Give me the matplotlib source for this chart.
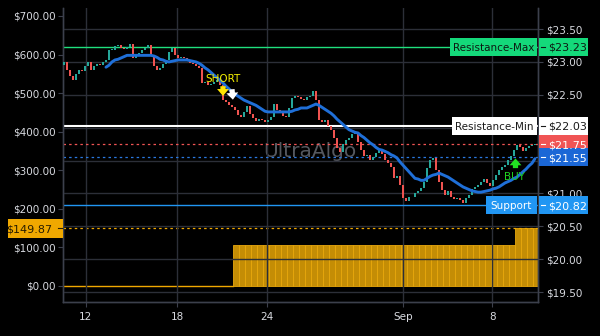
import matplotlib
matplotlib.use('Agg')
import matplotlib.pyplot as plt
import matplotlib.transforms as mtransforms
from matplotlib.patches import Rectangle
from matplotlib.lines import Line2D
import numpy as np

# ---------------- data ----------------
closes = [
    23.00, 22.88, 22.79, 22.72, 22.82, 22.88, 22.86, 22.94, 23.00, 22.88,
    22.94, 22.97, 22.95, 23.00, 23.03, 23.18, 23.18, 23.24, 23.26, 23.21,
    23.20, 23.23, 23.27, 23.06, 23.09, 23.13, 23.18, 23.21, 23.26, 23.10,
    22.94, 22.88, 22.91, 22.97, 23.03, 23.15, 23.21, 23.10, 23.06, 23.07,
    23.06, 23.03, 22.98, 22.97, 22.94, 22.91, 22.68, 22.69, 22.65, 22.66,
    22.69, 22.72, 22.65, 22.42, 22.39, 22.34, 22.31, 22.27, 22.19, 22.16,
    22.24, 22.33, 22.21, 22.15, 22.10, 22.13, 22.12, 22.09, 22.12, 22.16,
    22.36, 22.27, 22.22, 22.18, 22.16, 22.30, 22.45, 22.48, 22.47, 22.44,
    22.42, 22.47, 22.48, 22.56, 22.42, 22.12, 22.09, 22.12, 22.02, 21.96,
    21.84, 21.69, 21.63, 21.75, 21.81, 21.84, 21.90, 21.93, 21.78, 21.66,
    21.57, 21.58, 21.51, 21.55, 21.61, 21.66, 21.60, 21.51, 21.46, 21.40,
    21.23, 21.26, 21.13, 20.93, 20.88, 20.94, 20.94, 21.01, 21.04, 21.08,
    21.17, 21.39, 21.51, 21.54, 21.36, 21.17, 21.05, 20.98, 21.04, 20.94,
    20.91, 20.93, 20.90, 20.85, 20.93, 20.98, 21.07, 21.10, 21.13, 21.17,
    21.22, 21.16, 21.11, 21.20, 21.28, 21.36, 21.40, 21.43, 21.51, 21.57,
    21.66, 21.74, 21.71, 21.64, 21.69, 21.72, 21.74, 21.75,
]
first_open = 22.95

ma_values = [
    22.92, 22.95, 23.00, 23.03, 23.04, 23.06, 23.08, 23.10,
    23.10, 23.10, 23.10, 23.10, 23.10, 23.10, 23.10, 23.10,
    23.09, 23.07, 23.04, 23.03, 23.01, 23.00, 23.01, 23.02,
    23.03, 23.03, 23.03, 23.03, 23.02, 23.01, 23.00, 22.98,
    22.95, 22.91, 22.88, 22.84, 22.80, 22.76, 22.72, 22.68,
    22.63, 22.59, 22.54, 22.51, 22.48, 22.45, 22.42, 22.40,
    22.38, 22.36, 22.34, 22.31, 22.28, 22.25, 22.24, 22.24,
    22.24, 22.24, 22.24, 22.24, 22.24, 22.24, 22.25, 22.27,
    22.28, 22.30, 22.30, 22.30, 22.32, 22.34, 22.36, 22.34,
    22.31, 22.28, 22.25, 22.22, 22.18, 22.13, 22.09, 22.05,
    22.01, 21.97, 21.95, 21.93, 21.92, 21.88, 21.85, 21.81,
    21.77, 21.74, 21.70, 21.67, 21.66, 21.64, 21.62, 21.59,
    21.57, 21.54, 21.48, 21.43, 21.38, 21.33, 21.28, 21.23,
    21.22, 21.20, 21.20, 21.23, 21.26, 21.28, 21.29, 21.31,
    21.29, 21.27, 21.25, 21.22, 21.19, 21.16, 21.13, 21.10,
    21.08, 21.06, 21.04, 21.03, 21.02, 21.02, 21.03, 21.04,
    21.05, 21.07, 21.08, 21.10, 21.13, 21.16, 21.18, 21.20,
    21.23, 21.25, 21.29, 21.33, 21.37, 21.42, 21.46, 21.53,
]

equity_levels = [0.0, 106.3, 149.87]
equity_change_idx = [57, 151]

resistance_max = 23.23
resistance_min = 22.03
last_price = 21.75
ma_last = 21.55
support = 20.82
equity_last = 149.87

short_idx = 53
exit_idx = 56
buy_idx = 150

x_tick_pos = [7.3, 37.7, 67.7, 113.0, 142.7]
x_tick_labels = ['12', '18', '24', 'Sep', '8']
left_ticks = [0, 100, 200, 300, 400, 500, 600, 700]
right_ticks = [19.5, 20.0, 20.5, 21.0, 21.5, 22.0, 22.5, 23.0, 23.5]
right_hidden_labels = [21.5, 22.0]   # covered by the price boxes in the reference

# ---------------- style ----------------
BG = '#000000'
GRID = '#2c2f38'
SPINE = '#3c404c'
TXT = '#d8dae0'
UP = '#26a69a'
DOWN = '#ef5350'
MA_C = '#1f6fd8'
ORANGE = '#f0a800'
ORANGE_F = '#c48d05'
GREEN_BOX = '#14d97a'
RED_BOX = '#f05454'
BLUE_BOX = '#1b67d6'
SUP_BOX = '#2196f3'
FS = 7.5

plt.rcParams['font.family'] = ['DejaVu Sans']

W, H = 600, 336
fig = plt.figure(figsize=(W / 100, H / 100), dpi=100, facecolor=BG)
ax = fig.add_axes([63 / W, 1 - 302 / H, 475 / W, 294 / H])
ax.set_facecolor(BG)
ax2 = ax.twinx()
ax2.patch.set_visible(False)

n = len(closes)
xi = np.arange(n)
closes_a = np.array(closes)
opens_a = np.array([first_open] + closes[:-1])

ax.set_xlim(-0.33, 158.0)
ax.set_ylim(-41.5, 720.7)
ax2.set_ylim(19.35, 23.82)

# spines
for a in (ax, ax2):
    a.spines['top'].set_visible(False)
    for s in ('left', 'right', 'bottom'):
        a.spines[s].set_color(SPINE)
        a.spines[s].set_linewidth(1.0)

# ---------------- equity (left axis) ----------------
eq = np.full(n, equity_levels[0])
for lvl, ci in zip(equity_levels[1:], equity_change_idx):
    eq[ci:] = lvl
zero_part = xi[eq == equity_levels[0]]
ax.plot(np.append(zero_part, zero_part[-1] + 0.5), np.full(len(zero_part) + 1, 0.0),
        color=ORANGE, lw=1.0, zorder=2)
pos_idx = xi[eq > 0][::2]
ax.bar(pos_idx + 0.5, eq[pos_idx], width=2.0, bottom=0, color=ORANGE_F,
       edgecolor='#e8a80c', linewidth=0.6, zorder=2)
ax.axhline(equity_last, color=ORANGE, lw=0.9, ls=(0, (2, 2.5)), zorder=3)

# watermark
ax.text(310 / W, 1 - 152 / H, 'UltraAlgo', transform=fig.transFigure, ha='center',
        va='center', color='#55585f', fontsize=14.5, zorder=4)

# ---------------- grid (right axis) ----------------
ax2.set_yticks(right_ticks)
ax2.grid(axis='y', color=GRID, lw=1.0, zorder=0.5)
for xp in x_tick_pos:
    ax2.axvline(xp, color=GRID, lw=1.0, zorder=0.5)

# reference lines
ax2.axhline(resistance_max, color='#1fe07e', lw=1.0, zorder=1)
ax2.axhline(resistance_min, color='#ffffff', lw=1.5, zorder=1)
ax2.axhline(last_price, color=RED_BOX, lw=0.9, ls=(0, (2, 2.5)), zorder=1)
ax2.axhline(ma_last, color='#2a78e0', lw=0.9, ls=(0, (2, 2.5)), zorder=1)
ax2.axhline(support, color=SUP_BOX, lw=1.0, zorder=1)

# ---------------- candles ----------------
up = closes_a >= opens_a
body_lo = np.minimum(opens_a, closes_a)
body_h = np.maximum(np.abs(closes_a - opens_a), 0.012)
colors = np.where(up, UP, DOWN)
ax2.bar(xi, body_h, bottom=body_lo, width=0.8, color=colors, linewidth=0, zorder=3)

# moving average
ma = np.array([np.nan] * (n - len(ma_values)) + ma_values)
ax2.plot(xi, ma, color=MA_C, lw=2.1, solid_capstyle='round', zorder=4)

# ---------------- signals ----------------
def pt_offset(dy):
    return mtransforms.offset_copy(ax2.transData, fig=fig, x=0, y=dy, units='points')

arr_style = 'simple,head_length=0.55,head_width=0.95,tail_width=0.42'
ax2.annotate('', xy=(short_idx, closes[short_idx]), xycoords=pt_offset(3),
             xytext=(short_idx, closes[short_idx]), textcoords=pt_offset(10),
             arrowprops=dict(arrowstyle=arr_style, fc='#ffe600', ec='none',
                             mutation_scale=9, shrinkA=0, shrinkB=0), zorder=6)
ax2.annotate('SHORT', xy=(short_idx, closes[short_idx]), xycoords=pt_offset(15.5),
             ha='center', va='center', color='#f5f000', fontsize=FS, zorder=6)
ax2.annotate('', xy=(exit_idx + 0.3, closes[exit_idx]), xycoords=pt_offset(5.5),
             xytext=(exit_idx, closes[exit_idx]), textcoords=pt_offset(13),
             arrowprops=dict(arrowstyle=arr_style, fc='#ffffff', ec='none',
                             mutation_scale=9, shrinkA=0, shrinkB=0), zorder=6)
ax2.annotate('', xy=(buy_idx + 0.5, closes[buy_idx]), xycoords=pt_offset(-6),
             xytext=(buy_idx + 0.5, closes[buy_idx]), textcoords=pt_offset(-13),
             arrowprops=dict(arrowstyle=arr_style, fc='#22e022', ec='none',
                             mutation_scale=9, shrinkA=0, shrinkB=0), zorder=6)
ax2.annotate('BUY', xy=(buy_idx, closes[buy_idx]), xycoords=pt_offset(-19.5),
             ha='center', va='center', color='#20d420', fontsize=FS, zorder=6)

# ---------------- ticks ----------------
def right_fmt(v, p):
    if any(abs(v - h) < 1e-9 for h in right_hidden_labels):
        return ''
    return f'${v:,.2f}'

ax.set_xticks(x_tick_pos, x_tick_labels)
ax.set_yticks(left_ticks)
ax.yaxis.set_major_formatter(matplotlib.ticker.FuncFormatter(lambda v, p: f'${v:,.2f}'))
ax2.yaxis.set_major_formatter(matplotlib.ticker.FuncFormatter(right_fmt))
ax.tick_params(axis='both', color=SPINE, labelcolor=TXT, labelsize=FS, length=3.5,
               width=0.8, pad=2)
ax.tick_params(axis='x', pad=4)
ax2.tick_params(axis='y', color=SPINE, labelcolor=TXT, labelsize=FS, length=3.5,
                width=0.8, pad=2.5)

# ---------------- label boxes ----------------
def ypix(axis, v):
    return axis.transData.transform((0, v))[1]

def fig_box(x0, x1, yc, h, fc, z=10):
    fig.add_artist(Rectangle((x0 / W, (yc - h / 2) / H), (x1 - x0) / W, h / H,
                             transform=fig.transFigure, fc=fc, ec='none', zorder=z))

def right_label(v, text, fc, tc, side_text=None, side_x0=None):
    yc = ypix(ax2, v)
    fig_box(539, 588, yc, 18, fc)
    fig.add_artist(Line2D([541 / W, 545 / W], [yc / H, yc / H], color=tc, lw=0.8,
                          transform=fig.transFigure, zorder=11))
    fig.text(548 / W, yc / H, text, color=tc, fontsize=FS + 0.5, ha='left',
             va='center_baseline', zorder=12)
    if side_text:
        fig_box(side_x0, 537, yc, 18, fc)
        fig.text((side_x0 + 537) / 2 / W, yc / H, side_text, color=tc, fontsize=FS,
                 ha='center', va='center_baseline', zorder=12)

right_label(resistance_max, f'${resistance_max:.2f}', GREEN_BOX, '#0d1a12',
            'Resistance-Max', 450)
right_label(resistance_min, f'${resistance_min:.2f}', '#ffffff', '#1a1a1a',
            'Resistance-Min', 452)
right_label(last_price, f'${last_price:.2f}', RED_BOX, '#ffffff')
right_label(ma_last, f'${ma_last:.2f}', BLUE_BOX, '#ffffff')
right_label(support, f'${support:.2f}', SUP_BOX, '#ffffff', 'Support', 486)

# left equity label
yc = ypix(ax, equity_last)
fig_box(8, 63, yc, 19, ORANGE)
fig.add_artist(Line2D([58 / W, 62 / W], [yc / H, yc / H], color='#2a1e00', lw=0.8,
                      transform=fig.transFigure, zorder=11))
fig.text(52 / W, yc / H, f'${equity_last:.2f}', color='#2a1e00', fontsize=FS + 0.5,
         ha='right', va='center_baseline', zorder=12)

fig.savefig('out.png', dpi=100, facecolor=BG)
